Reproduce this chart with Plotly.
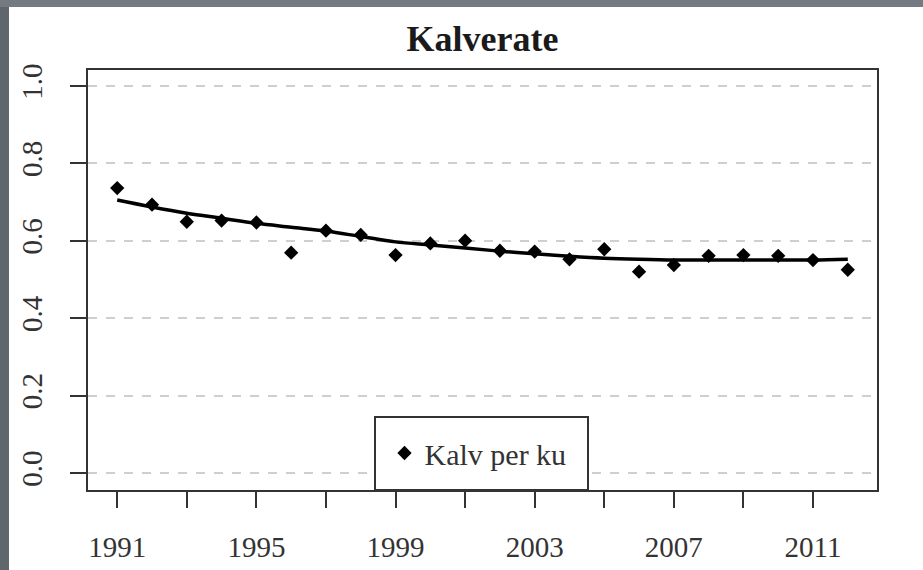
import plotly.graph_objects as go

# Data
years = list(range(1991, 2013))
calves_per_cow = [0.736, 0.693, 0.649, 0.652, 0.647, 0.569, 0.626, 0.615, 0.563, 0.593, 0.600,
                  0.574, 0.572, 0.552, 0.578, 0.520, 0.537, 0.561, 0.563, 0.561, 0.550, 0.525]
trend = [0.705, 0.687, 0.671, 0.658, 0.645, 0.635, 0.625, 0.611, 0.597, 0.589, 0.581,
         0.573, 0.566, 0.560, 0.555, 0.552, 0.550, 0.550, 0.550, 0.550, 0.550, 0.552]
x_ticks = list(range(1991, 2012, 2))
x_labels = [str(y) if (y - 1991) % 4 == 0 else "" for y in x_ticks]
y_ticks = [0.0, 0.2, 0.4, 0.6, 0.8, 1.0]
y_labels = ["0.0", "0.2", "0.4", "0.6", "0.8", "1.0"]

SERIF = "Liberation Serif"

fig = go.Figure()

fig.add_trace(go.Scatter(
    x=years, y=trend,
    mode="lines",
    line=dict(color="black", width=3.5, shape="spline"),
    showlegend=False,
    hoverinfo="skip"
))

fig.add_trace(go.Scatter(
    x=years, y=calves_per_cow,
    mode="markers",
    marker=dict(symbol="diamond", size=11, color="black"),
    name="Kalv per ku"
))

# plot area in pixels: x 88..877, y 70..490
W, H = 923, 570
L, R, T, B = 88, 46, 70, 80
pw, ph = W - L - R, H - T - B


def px_x(p):
    return (p - L) / pw


def px_y(p):
    return (H - B - p) / ph


shapes = [
    # grey frame of the screenshot (left and top strips)
    dict(type="rect", xref="paper", yref="paper", x0=px_x(0), x1=px_x(9), y0=px_y(H), y1=px_y(0),
         fillcolor="#5f666c", line=dict(width=0), layer="below"),
    dict(type="rect", xref="paper", yref="paper", x0=px_x(0), x1=px_x(W), y0=px_y(7), y1=px_y(0),
         fillcolor="#737a82", line=dict(width=0), layer="below"),
    # legend box
    dict(type="rect", xref="paper", yref="paper", x0=px_x(375), x1=px_x(588), y0=px_y(490), y1=px_y(417),
         fillcolor="white", line=dict(color="#333333", width=2), layer="above"),
]

fig.update_layout(
    width=W, height=H,
    margin=dict(l=L, r=R, t=T, b=B, autoexpand=False),
    paper_bgcolor="white",
    plot_bgcolor="white",
    font=dict(family=SERIF, color="#333333", size=28),
    title=dict(text="<b>Kalverate</b>", x=px_x(482.5), xref="paper", xanchor="center",
               y=1 - 38 / H, yanchor="middle",
               font=dict(size=36, color="#1a1a1a", family=SERIF)),
    shapes=shapes,
    legend=dict(x=px_x(478), y=px_y(453), xanchor="center", yanchor="middle",
                bgcolor="rgba(0,0,0,0)", borderwidth=0,
                font=dict(size=30, color="#333333", family=SERIF)),
    xaxis=dict(
        range=[1990.16, 2012.84],
        tickvals=x_ticks, ticktext=x_labels,
        ticks="outside", ticklen=16, tickwidth=2, tickcolor="#333333",
        showline=True, linecolor="#333333", linewidth=2, mirror=True,
        showgrid=False, zeroline=False, automargin=False,
        ticklabelstandoff=14,
        tickfont=dict(size=29, family=SERIF, color="#333333"),
    ),
    yaxis=dict(
        range=[-0.044, 1.041],
        tickvals=y_ticks, ticktext=y_labels,
        ticks="outside", ticklen=16, tickwidth=2, tickcolor="#333333",
        showline=True, linecolor="#333333", linewidth=2, mirror=True,
        showgrid=True, gridcolor="#cfcfcf", griddash="dash", gridwidth=1.5,
        zeroline=False, automargin=False,
        tickangle=-90,
        ticklabelstandoff=16,
        tickfont=dict(size=29, family=SERIF, color="#333333"),
    ),
)

# drop the page's default body margin so the figure sits at the window's corner
fig.write_html("out.html", config={"displayModeBar": False},
               post_script="document.body.style.margin='0';document.body.style.overflow='hidden';")
